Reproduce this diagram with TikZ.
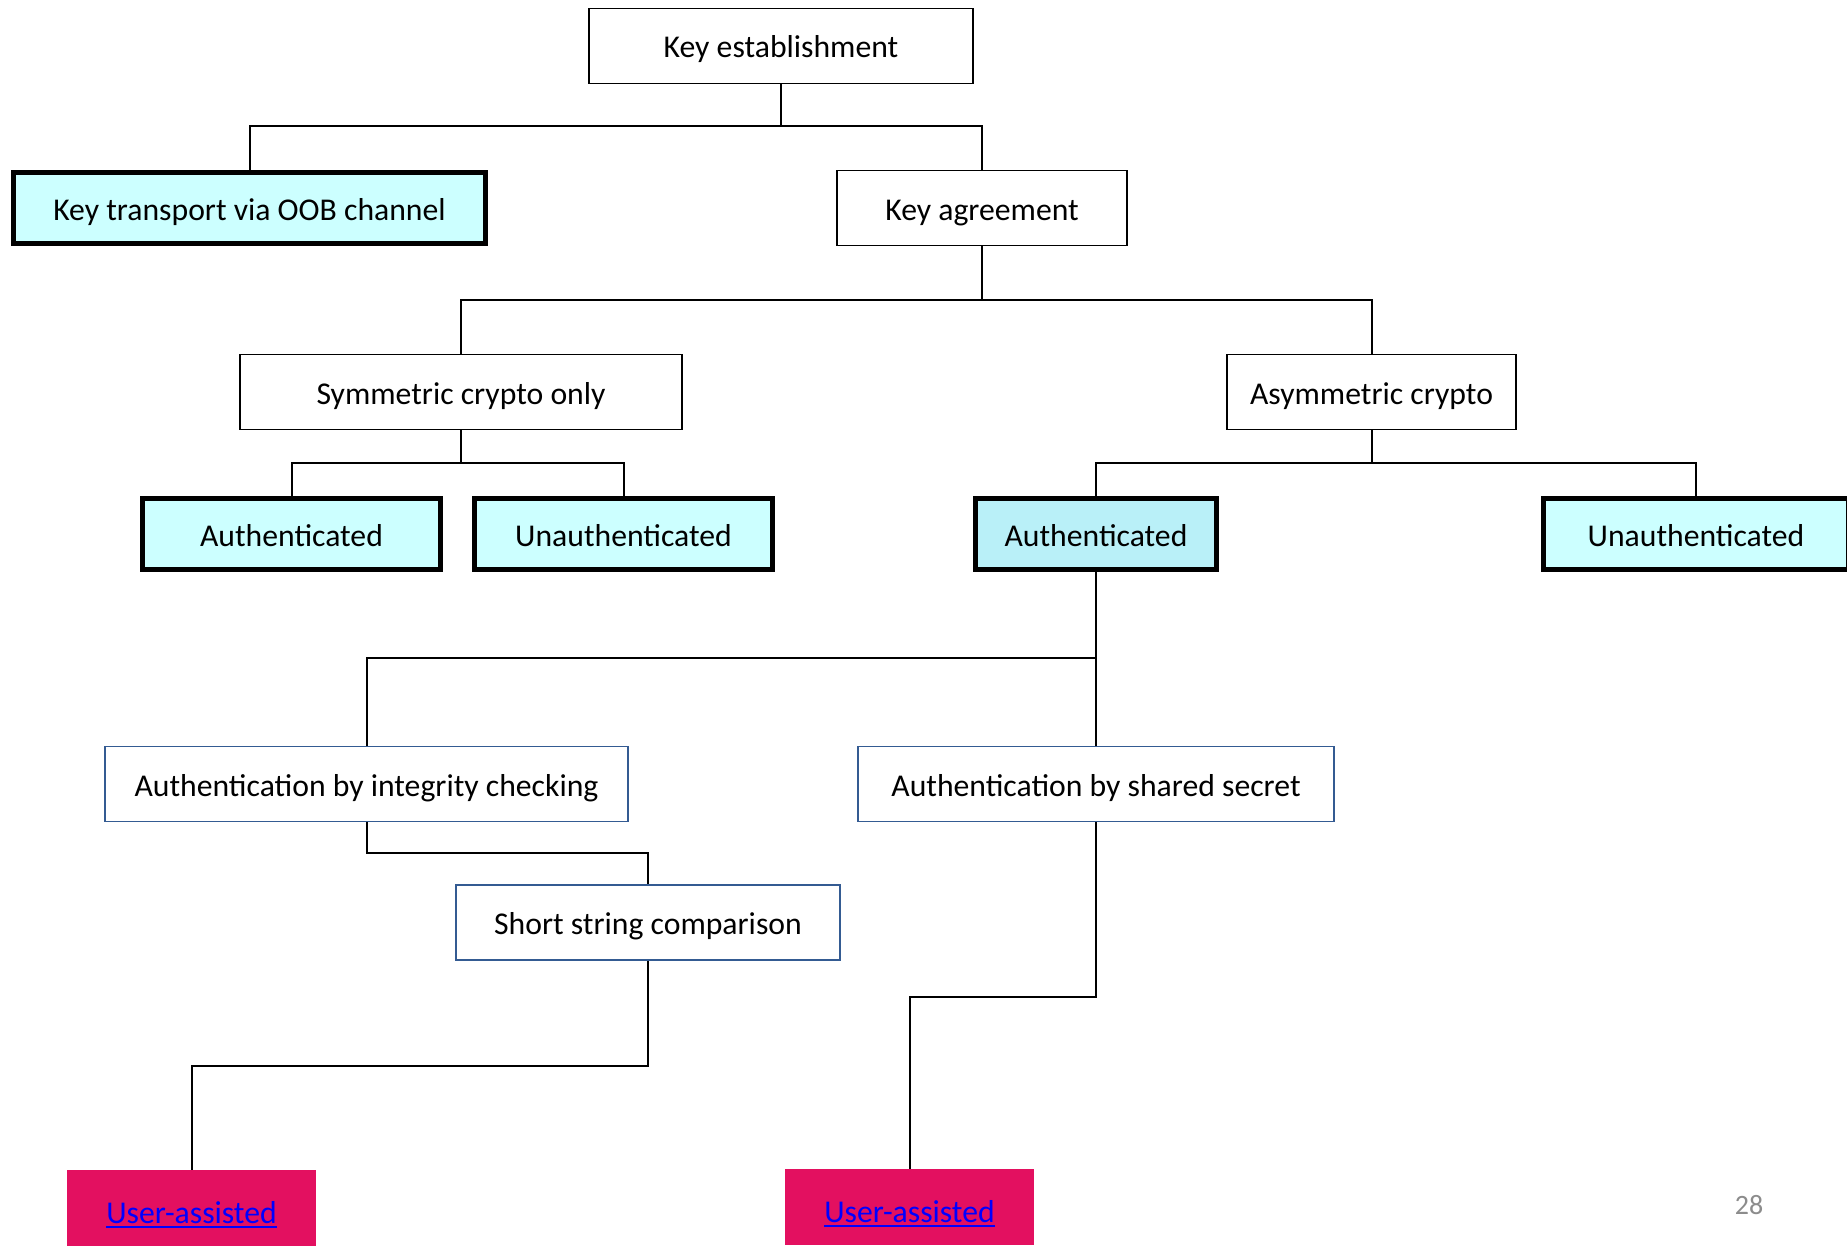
\documentclass[tikz,border=0pt]{standalone}
\usepackage{fontspec}
\setmainfont{Carlito}
\definecolor{cyanbox}{HTML}{CCFFFF}
\definecolor{cyanboxb}{HTML}{B9F0F8}
\definecolor{bluebord}{HTML}{345B92}
\definecolor{pinkbox}{HTML}{E31060}
\definecolor{linkblue}{HTML}{0000FF}
\definecolor{pagegray}{HTML}{8C8C8C}
\newcommand\mylink[1]{\setbox0\hbox{\color{linkblue}#1}\rlap{\color{linkblue}\rule[-5pt]{\wd0}{2.2pt}}\box0}
\begin{document}
\begin{tikzpicture}[x=1pt,y=-1pt,
  every node/.style={font=\fontsize{31.7}{38}\selectfont, inner sep=0pt, align=center, text height=24pt, text depth=0pt},
  plainbox/.style={draw=black, line width=1.8pt, fill=white, minimum height=75pt},
  boldbox/.style={draw=black, line width=5pt, fill=cyanbox, minimum height=71pt},
  bluebox/.style={draw=bluebord, line width=1.8pt, fill=white, minimum height=75pt},
  userbox/.style={fill=pinkbox, minimum height=76pt, minimum width=249pt},
  link/.style={line width=2pt, draw=black}]
\fill[white] (0,0) rectangle (1847,1247);
\useasboundingbox (0,0) rectangle (1847,1247);

\node[plainbox, minimum width=384pt] (ke) at (781,46) {Key establishment};
\node[boldbox, minimum width=472pt] (kt) at (249.5,208) {Key transport via OOB channel};
\node[plainbox, minimum width=290pt] (ka) at (982,208) {Key agreement};
\node[plainbox, minimum width=442pt] (sym) at (461,392) {Symmetric crypto only};
\node[plainbox, minimum width=289pt] (asym) at (1371.5,392) {Asymmetric crypto};
\node[boldbox, minimum width=298pt] (a1) at (291.5,534) {Authenticated};
\node[boldbox, minimum width=298pt] (u1) at (623.5,534) {Unauthenticated};
\node[boldbox, fill=cyanboxb, minimum width=241pt] (a2) at (1096,534) {Authenticated};
\node[boldbox, minimum width=305pt] (u2) at (1696,534) {Unauthenticated};
\node[bluebox, minimum width=523pt] (aic) at (366.5,784) {Authentication by integrity checking};
\node[bluebox, minimum width=476pt] (ass) at (1096,784) {Authentication by shared secret};
\node[bluebox, minimum width=384pt] (ssc) at (648,922.5) {Short string comparison};
\node[userbox] (ua1) at (191.5,1208) {\raisebox{-3pt}{\mylink{User-assisted}}};
\node[userbox] (ua2) at (909.5,1207) {\raisebox{-3pt}{\mylink{User-assisted}}};
\node[text=pagegray, font=\fontsize{28}{34}\selectfont] (pg) at (1749,1202) {28};

\draw[link] (ke.south) -- (ke.south |- 0,126) -| (kt.north);
\draw[link] (ke.south |- 0,126) -| (ka.north);
\draw[link] (ka.south) -- (ka.south |- 0,300) -| (sym.north);
\draw[link] (ka.south |- 0,300) -| (asym.north);
\draw[link] (sym.south) -- (sym.south |- 0,463) -| (a1.north);
\draw[link] (sym.south |- 0,463) -| (u1.north);
\draw[link] (asym.south) -- (asym.south |- 0,463) -| (a2.north);
\draw[link] (asym.south |- 0,463) -| (u2.north);
\draw[link] (a2.south) -- (a2.south |- 0,658) -| (aic.north);
\draw[link] (a2.south |- 0,658) -- (ass.north);
\draw[link] (aic.south) -- (aic.south |- 0,853) -| (ssc.north);
\draw[link] (ssc.south) -- (ssc.south |- 0,1066) -| (ua1.north);
\draw[link] (ass.south) -- (ass.south |- 0,997) -| (ua2.north);
\end{tikzpicture}
\end{document}
